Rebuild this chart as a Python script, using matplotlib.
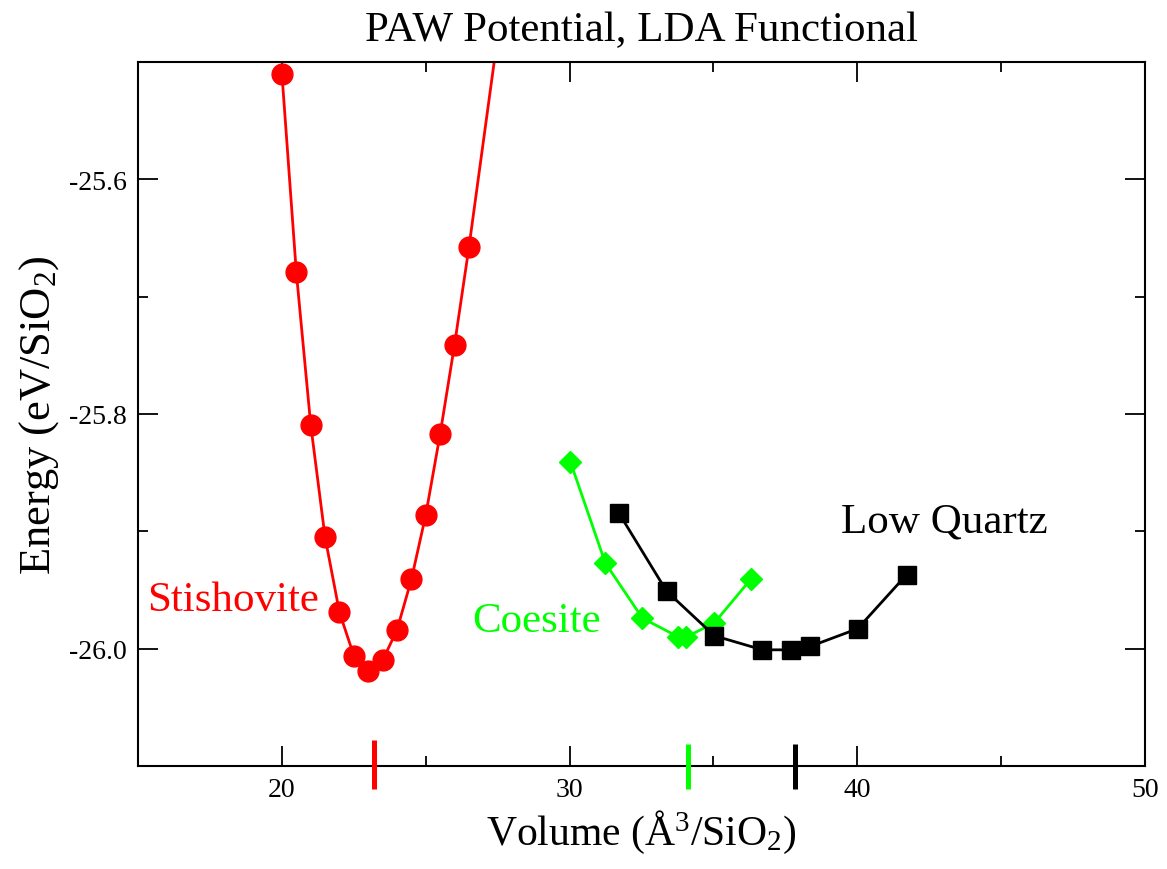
import matplotlib
matplotlib.use("Agg")
import matplotlib.pyplot as plt

plt.rcParams['font.family'] = ['Liberation Serif', 'DejaVu Serif']
plt.rcParams['mathtext.fontset'] = 'custom'
plt.rcParams['mathtext.rm'] = 'Liberation Serif'
plt.rcParams['mathtext.it'] = 'Liberation Serif:italic'
plt.rcParams['mathtext.bf'] = 'Liberation Serif:bold'

# Stishovite (red circles)
stish_vol = [20.0, 20.5, 21.0, 21.5, 22.0, 22.5, 23.0, 23.5, 24.0, 24.5,
             25.0, 25.5, 26.0, 26.5, 27.5]
stish_e = [-25.510, -25.679, -25.809, -25.905, -25.969, -26.006, -26.019,
           -26.010, -25.984, -25.941, -25.886, -25.817, -25.741, -25.658,
           -25.478]

# Coesite (green diamonds)
coes_vol = [30.03, 31.24, 32.53, 33.78, 34.06, 35.03, 36.29]
coes_e = [-25.841, -25.927, -25.974, -25.990, -25.990, -25.978, -25.941]

# Low quartz (black squares)
quartz_vol = [31.70, 33.37, 35.03, 36.70, 37.71, 38.37, 40.01, 41.71]
quartz_e = [-25.884, -25.951, -25.989, -26.001, -26.001, -25.998, -25.983,
            -25.937]

# equilibrium volume marks on the x axis
eq_vol = [23.2, 34.13, 37.82]
eq_colors = ['#ff0000', '#00ff00', 'black']

fig = plt.figure(figsize=(11.67, 8.70), dpi=100)
ax = fig.add_axes([0.1183, 0.1184, 0.8629, 0.8092])

ax.plot(stish_vol, stish_e, '-o', color='#ff0000', lw=2, ms=15)
ax.plot(coes_vol, coes_e, '-D', color='#00ff00', lw=2, ms=11)
ax.plot(quartz_vol, quartz_e, '-s', color='black', lw=2, ms=12.5)

for v, c in zip(eq_vol, eq_colors):
    top = -26.078 if c == '#ff0000' else -26.081
    ax.plot([v, v], [top, -26.12], color=c, lw=3.6, clip_on=False,
            solid_capstyle='butt', zorder=5)

ax.text(15.31, -25.958, 'Stishovite', color='#ff0000', fontsize=31,
        va='center', ha='left')
ax.text(26.62, -25.976, 'Coesite', color='#00ff00', fontsize=31,
        va='center', ha='left')
ax.text(39.42, -25.891, 'Low Quartz', color='black', fontsize=31,
        va='center', ha='left')

ax.set_xlim(15, 50)
ax.set_ylim(-26.1, -25.5)
ax.set_xticks([20, 30, 40, 50])
ax.set_xticks([25, 35, 45], minor=True)
ax.set_yticks([-26.0, -25.8, -25.6])
ax.set_yticklabels(['-26.0', '-25.8', '-25.6'])
ax.set_yticks([-25.9, -25.7], minor=True)

ax.tick_params(which='both', direction='in', top=True, right=True,
               labelsize=20, width=1.3)
ax.tick_params(which='major', length=14.4, pad=8)
ax.tick_params(which='minor', length=7.2)
for s in ax.spines.values():
    s.set_linewidth(1.5)

ax.set_xlabel('Volume (Å$^3$/SiO$_2$)', fontsize=30, labelpad=4)
ax.set_ylabel('Energy (eV/SiO$_2$)', fontsize=32, labelpad=6)
ax.set_title('PAW Potential, LDA Functional', fontsize=31, pad=16)

fig.savefig('out.png', dpi=100)
